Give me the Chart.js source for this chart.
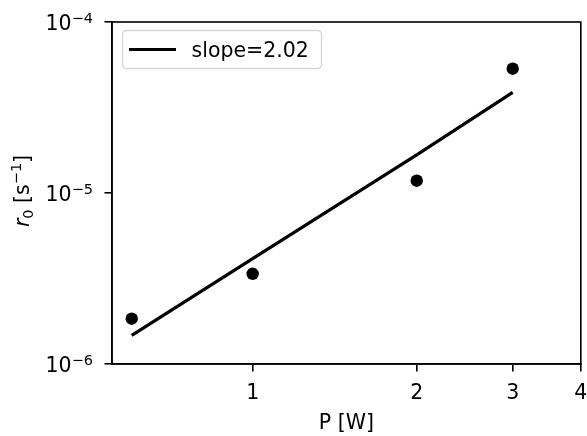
<!DOCTYPE html>
<html>
<head>
<meta charset="utf-8">
<script src="https://cdn.jsdelivr.net/npm/chart.js@4/dist/chart.umd.min.js"></script>
<style>
  html, body { margin: 0; padding: 0; background: #fff; }
  #wrap { width: 587px; height: 436px; }
</style>
</head>
<body>
<div id="wrap"><canvas id="chart" width="587" height="436"></canvas></div>
<script>
// --- data ---
const powerW = [0.6, 1, 2, 3];
const rateR0 = [1.84e-6, 3.37e-6, 1.18e-5, 5.33e-5];
const fitR0 = [1.47e-6, 4.13e-6, 1.67e-5, 3.88e-5];
const fitLabel = 'slope=2.02';
const xTickValues = [1, 2, 3, 4];
const yTickValues = [1e-6, 1e-5, 1e-4];

const FONT = '"DejaVu Sans", sans-serif';
const BIG = 20.5;
const SMALL = 14.5;

// draws a row of text pieces [text, size, yOffset, italic] starting at x
function drawPieces(ctx, pieces, x, y) {
    pieces.forEach(p => {
        ctx.font = (p[3] ? 'italic ' : '') + p[1] + 'px ' + FONT;
        ctx.fillText(p[0], x, y + p[2]);
        x += ctx.measureText(p[0]).width;
    });
}
function piecesWidth(ctx, pieces) {
    let w = 0;
    pieces.forEach(p => {
        ctx.font = (p[3] ? 'italic ' : '') + p[1] + 'px ' + FONT;
        w += ctx.measureText(p[0]).width;
    });
    return w;
}

// frame, y tick labels (10^n), y title and the legend box
const decorPlugin = {
    id: 'decor',
    afterDraw(chart) {
        const ctx = chart.ctx;
        const a = chart.chartArea;
        ctx.save();
        ctx.strokeStyle = '#000';
        ctx.lineWidth = 1.6;
        ctx.strokeRect(a.left, a.top, a.right - a.left, a.bottom - a.top);

        ctx.fillStyle = '#000';
        ctx.textBaseline = 'alphabetic';
        ctx.textAlign = 'left';

        // y tick labels
        const ys = chart.scales.y;
        ys.ticks.forEach(t => {
            const py = ys.getPixelForValue(t.value);
            const exp = Math.round(Math.log10(t.value));
            const pcs = [['10', BIG, 0], ['\u2212' + Math.abs(exp), SMALL, -7.5]];
            const w = piecesWidth(ctx, pcs);
            drawPieces(ctx, pcs, 93 - w, py + 8);
        });

        // y title: r_0 [s^-1]
        const title = [['r', BIG, 0, true], ['0', SMALL, 4.5], [' [s', BIG, 0], ['\u22121', SMALL, -7.5], [']', BIG, 0]];
        ctx.save();
        ctx.translate(28.5, (a.top + a.bottom) / 2 - 2);
        ctx.rotate(-Math.PI / 2);
        const tw = piecesWidth(ctx, title);
        drawPieces(ctx, title, -tw / 2, 0);
        ctx.restore();

        // legend
        const ds = chart.data.datasets[0];
        const bx = a.left + 10.5, by = a.top + 8.5, bw = 199, bh = 38, r = 4;
        ctx.beginPath();
        ctx.roundRect(bx, by, bw, bh, r);
        ctx.fillStyle = 'rgba(255,255,255,0.8)';
        ctx.fill();
        ctx.strokeStyle = '#d6d6d6';
        ctx.lineWidth = 1.4;
        ctx.stroke();
        ctx.beginPath();
        ctx.moveTo(bx + 6.5, by + 19);
        ctx.lineTo(bx + 53.5, by + 19);
        ctx.strokeStyle = ds.borderColor;
        ctx.lineWidth = ds.borderWidth;
        ctx.stroke();
        ctx.fillStyle = '#000';
        ctx.font = BIG + 'px ' + FONT;
        ctx.fillText(ds.label, bx + 69, by + 26.5);
        ctx.restore();
    }
};

new Chart(document.getElementById('chart'), {
    type: 'scatter',
    data: {
        datasets: [
            {
                label: fitLabel,
                data: powerW.map((x, i) => ({ x: x, y: fitR0[i] })),
                showLine: true,
                borderColor: '#000',
                borderWidth: 3.2,
                pointRadius: 0,
                fill: false
            },
            {
                label: 'data',
                data: powerW.map((x, i) => ({ x: x, y: rateR0[i] })),
                showLine: false,
                backgroundColor: '#000',
                borderColor: '#000',
                pointRadius: 6.2,
                pointBorderWidth: 0
            }
        ]
    },
    options: {
        responsive: false,
        animation: false,
        devicePixelRatio: 1,
        layout: { padding: { top: 22, right: 5, left: 0, bottom: 0 } },
        plugins: { legend: { display: false }, tooltip: { enabled: false } },
        scales: {
            x: {
                type: 'logarithmic',
                min: 0.552,
                max: 4,
                bounds: 'data',
                afterBuildTicks: s => { s.ticks = xTickValues.map(v => ({ value: v })); },
                afterFit: s => { s.height = 72; s.paddingLeft = 0; s.paddingRight = 0; },
                ticks: {
                    callback: v => String(v),
                    color: '#000',
                    font: { family: FONT, size: BIG },
                    padding: 10,
                    maxRotation: 0,
                    autoSkip: false
                },
                grid: { drawOnChartArea: false, color: '#000', tickColor: '#000', tickLength: 7.5, lineWidth: 1.6 },
                border: { display: true, color: '#000', width: 1.6 },
                title: { display: true, text: 'P [W]', color: '#000', font: { family: FONT, size: BIG }, padding: { top: 0, bottom: 0 } }
            },
            y: {
                type: 'logarithmic',
                min: 1e-6,
                max: 1e-4,
                bounds: 'data',
                afterBuildTicks: s => { s.ticks = yTickValues.map(v => ({ value: v })); },
                afterFit: s => { s.width = 112; s.paddingTop = 0; s.paddingBottom = 0; },
                ticks: { callback: () => '', autoSkip: false },
                grid: { drawOnChartArea: false, color: '#000', tickColor: '#000', tickLength: 7.5, lineWidth: 1.6 },
                border: { display: true, color: '#000', width: 1.6 }
            }
        }
    },
    plugins: [decorPlugin]
});
</script>
</body>
</html>
